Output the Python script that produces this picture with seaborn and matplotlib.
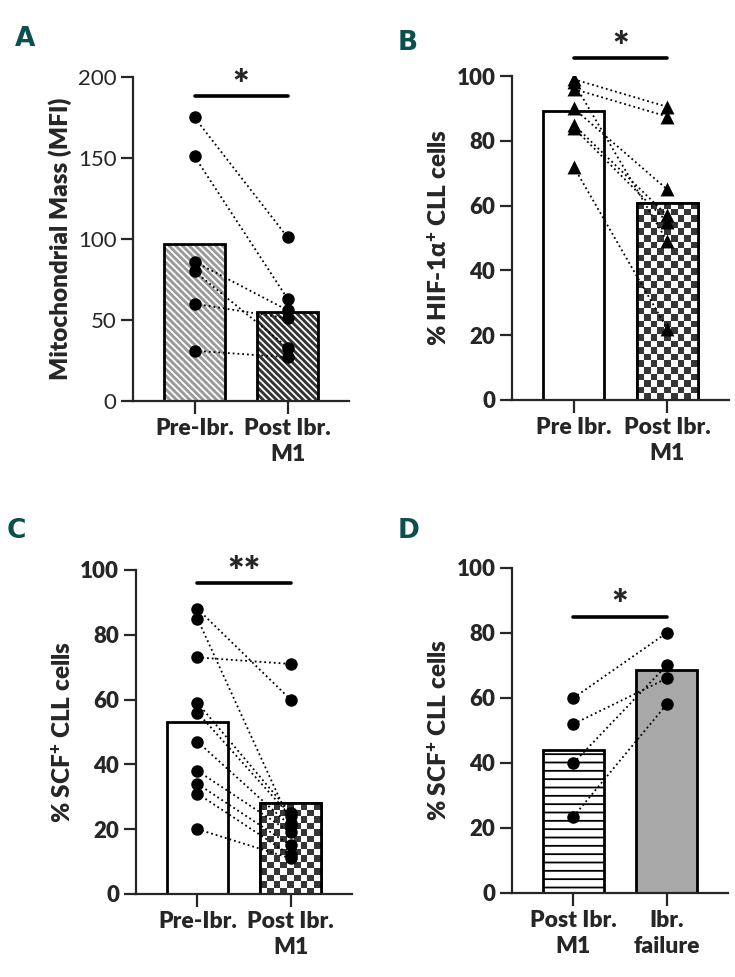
import numpy as np
import pandas as pd
import matplotlib
matplotlib.use("Agg")
import matplotlib.pyplot as plt
from matplotlib.colors import ListedColormap
import seaborn as sns

# panel A - mitochondrial mass
a_groups = ["Pre-Ibr.", "Post Ibr.\nM1"]
a_pre = [175, 151, 86, 80, 60, 31]
a_post = [101, 63, 56, 33, 51, 27]

# panel B - HIF-1a+ cells
b_groups = ["Pre Ibr.", "Post Ibr.\nM1"]
b_pre = [99, 96, 98, 90, 85, 84, 72]
b_post = [90.5, 87.5, 49, 65, 57, 55, 22]

# panel C - SCF+ cells pre / post
c_groups = ["Pre-Ibr.", "Post Ibr.\nM1"]
c_pre = [88, 85, 73, 59, 56, 47, 38, 34, 31, 20]
c_post = [60, 22, 71, 25, 24, 21, 19, 15, 12, 11]

# panel D - SCF+ cells post / failure
d_groups = ["Post Ibr.\nM1", "Ibr.\nfailure"]
d_m1 = [60, 52, 40, 23.5]
d_fail = [80, 66, 70, 58]

W = "heavy"

sns.set_style("ticks")
plt.rcParams["font.family"] = ["Lato", "DejaVu Sans"]
plt.rcParams["mathtext.fontset"] = "custom"
plt.rcParams["mathtext.rm"] = "Lato:heavy"
plt.rcParams["mathtext.it"] = "Lato:heavy"
plt.rcParams["mathtext.bf"] = "Lato:heavy"
plt.rcParams["hatch.linewidth"] = 1.3

fig = plt.figure(figsize=(7.35, 9.77), dpi=100)


def checker(ax, p, cell=6.5):
    bb = p.get_window_extent()
    nr = max(1, int(round(bb.height / cell)))
    nc = max(1, int(round(bb.width / cell)))
    grid = np.indices((nr, nc)).sum(0) % 2
    x0, y0 = p.get_x(), p.get_y()
    im = ax.imshow(grid, extent=(x0, x0 + p.get_width(), y0, y0 + p.get_height()),
                   origin="lower", cmap=ListedColormap(["white", "#363636"]),
                   aspect="auto", interpolation="nearest", zorder=1.5)
    im.set_clip_path(p)


def panel(rect, groups, first, second, ymax, step, ylabel, styles, marker,
          sig, sig_y, star_y, bold_ticks=True):
    ax = fig.add_axes(rect)
    df = pd.DataFrame({"group": [groups[0]] * len(first) + [groups[1]] * len(second),
                       "value": first + second})
    sns.barplot(data=df, x="group", y="value", order=groups, errorbar=None,
                width=0.65, color="white", edgecolor="black", linewidth=2,
                ax=ax, zorder=1)
    ax.set_xlim(-0.66, 1.66)
    ax.set_ylim(0, ymax)
    for p, st in zip(ax.patches, styles):
        kind, col = st
        if kind == "fill":
            p.set_facecolor(col)
        elif kind == "diag":
            p.set_facecolor(col)
            p.set_edgecolor("white")
            p.set_linewidth(0)
            p.set_hatch("\\" * 5)
            ax.add_patch(plt.Rectangle(p.get_xy(), p.get_width(), p.get_height(),
                                       fill=False, ec="black", lw=2, zorder=2))
        elif kind == "hline":
            p.set_hatch("--")
        elif kind == "check":
            checker(ax, p)
            ax.add_patch(plt.Rectangle(p.get_xy(), p.get_width(), p.get_height(),
                                       fill=False, ec="black", lw=2, zorder=2))
    for u, v in zip(first, second):
        ax.plot([0, 1], [u, v], ls=":", color="black", lw=1.3, zorder=3)
    sns.stripplot(data=df, x="group", y="value", order=groups, jitter=False,
                  color="black", marker=marker, size=9 if marker == "o" else 10,
                  linewidth=0, ax=ax, zorder=4)
    ax.set_xlim(-0.66, 1.66)
    ax.set_ylim(0, ymax)
    ax.set_yticks(np.arange(0, ymax + 1, step))
    ax.plot([0, 1], [sig_y, sig_y], color="black", lw=2.6, clip_on=False)
    ax.text(0.5, star_y, sig, ha="center", va="center", fontsize=28,
            fontweight=W, clip_on=False)
    sns.despine(ax=ax)
    for s in ["left", "bottom"]:
        ax.spines[s].set_linewidth(1.6)
    ax.tick_params(length=9, width=1.6, labelsize=16, pad=3)
    ax.set_xlabel("")
    ax.set_ylabel(ylabel, fontsize=17.5, fontweight=W, labelpad=4)
    for t in ax.get_xticklabels():
        t.set_fontweight(W)
        t.set_fontsize(16.5)
        t.set_linespacing(1.3)
    if bold_ticks:
        for t in ax.get_yticklabels():
            t.set_fontweight(W)
    return ax


panel([0.181, 0.5896, 0.294, 0.3316], a_groups, a_pre, a_post, 200, 50,
      "Mitochondrial Mass (MFI)", [("diag", "#9a9a9a"), ("diag", "#333333")],
      "o", "*", sig_y=188, star_y=194, bold_ticks=False)
panel([0.6966, 0.5906, 0.295, 0.3316], b_groups, b_pre, b_post, 100, 20,
      r"% HIF-1α$^{+}$ CLL cells", [("fill", "white"), ("check", None)],
      "^", "*", sig_y=105.5, star_y=108.5)
panel([0.185, 0.085, 0.294, 0.3316], c_groups, c_pre, c_post, 100, 20,
      r"% SCF$^{+}$ CLL cells", [("fill", "white"), ("check", None)],
      "o", "**", sig_y=96, star_y=99)
panel([0.6966, 0.086, 0.294, 0.3327], d_groups, d_m1, d_fail, 100, 20,
      r"% SCF$^{+}$ CLL cells", [("hline", None), ("fill", "#a8a8a8")],
      "o", "*", sig_y=85, star_y=88)

for lab, x, y in [("A", 15, 26), ("B", 398, 30), ("C", 7, 518), ("D", 398, 518)]:
    fig.text(x / 735, 1 - y / 977, lab, ha="left", va="top", fontsize=19,
             fontweight="bold", color="#0d4f4f",
             family=["Liberation Sans Narrow", "DejaVu Sans"])

fig.savefig("out.png", dpi=100)
